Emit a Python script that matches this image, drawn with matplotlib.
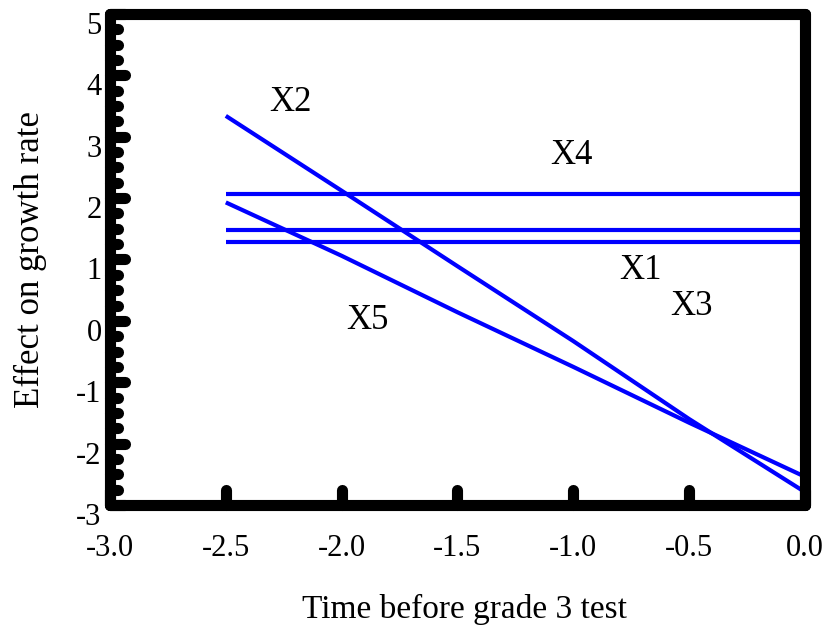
import numpy as np
import matplotlib
matplotlib.use("Agg")
import matplotlib.pyplot as plt
from matplotlib.markers import MarkerStyle
from matplotlib.transforms import ScaledTranslation

# values
time = [-2.5, -2.0, -1.5, -1.0, -0.5, 0.0]
x1 = [1.48, 1.48, 1.48, 1.48, 1.48, 1.48]
x2 = [3.34, 2.12, 0.89, -0.33, -1.60, -2.79]
x3 = [1.28, 1.28, 1.28, 1.28, 1.28, 1.28]
x4 = [2.07, 2.07, 2.07, 2.07, 2.07, 2.07]
x5 = [1.93, 1.06, 0.14, -0.75, -1.66, -2.54]

names = ["X1", "X2", "X3", "X4", "X5"]
label_x = [-0.71, -2.22, -0.49, -1.01, -1.89]
label_y = [0.82, 3.56, 0.23, 2.69, 0.0]

xticks = [-3.0, -2.5, -2.0, -1.5, -1.0, -0.5, 0.0]
yticks = [-3, -2, -1, 0, 1, 2, 3, 4, 5]

plt.rcParams['font.family'] = ['Liberation Serif', 'DejaVu Serif']
plt.rcParams['axes.unicode_minus'] = False

fig = plt.figure(figsize=(8.3, 6.27), dpi=100)
ax = fig.add_axes([0.1325, 0.1946, 0.8374, 0.7831])

for ys in [x1, x2, x3, x4, x5]:
    ax.plot(time, ys, color='#0000ff', lw=3.0, solid_capstyle='butt', zorder=2)

for n, lx, ly in zip(names, label_x, label_y):
    ax.text(lx, ly, n, fontsize=25, ha='center', va='center')

ax.set_xlim(-3.0, 0.0)
ax.set_ylim(-3, 5)
ax.set_xticks(xticks)
ax.set_xticklabels(["%.1f" % v for v in xticks])
ax.set_yticks(yticks)
ax.set_yticklabels([str(v) for v in yticks])
ax.set_yticks(np.arange(-3, 5.01, 0.25), minor=True)

for side in ['top', 'right', 'bottom', 'left']:
    ax.spines[side].set_linewidth(8)
    ax.spines[side].set_capstyle('round')
    ax.spines[side].set_zorder(3)

ax.tick_params(axis='both', which='major', direction='in', length=11, width=8,
               labelsize=22, top=False, right=False)
ax.tick_params(axis='x', which='major', pad=21)
ax.tick_params(axis='y', which='major', pad=6)
ax.tick_params(axis='y', which='minor', direction='in', length=6, width=8, right=False)
ax.tick_params(axis='x', which='minor', bottom=False, top=False)

# rounded ends on the tick marks
for t in ax.xaxis.get_major_ticks() + ax.yaxis.get_major_ticks() + ax.yaxis.get_minor_ticks():
    m = t.tick1line.get_marker()
    t.tick1line.set_marker(MarkerStyle(m, capstyle='round'))

# y tick labels sit a little below their ticks
shift = ScaledTranslation(0, -9 / 100, fig.dpi_scale_trans)
for lab in ax.get_yticklabels():
    lab.set_transform(lab.get_transform() + shift)

ax.set_xlabel("Time before grade 3 test", fontsize=24)
ax.set_ylabel("Effect on growth rate", fontsize=25)
ax.xaxis.set_label_coords(0.51, -0.182)
ax.yaxis.set_label_coords(-0.09, 0.5)

fig.savefig("out.png", dpi=100)
